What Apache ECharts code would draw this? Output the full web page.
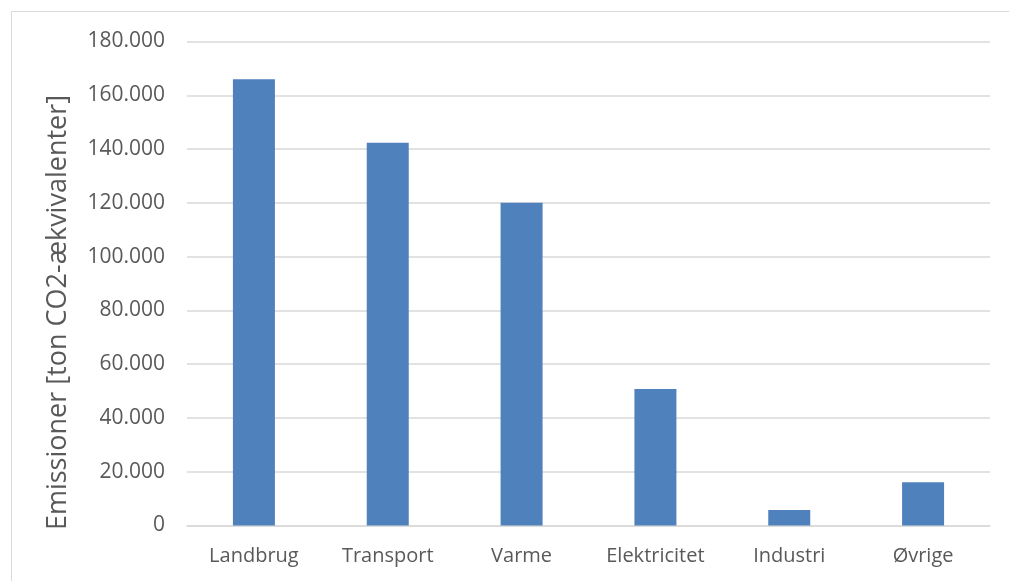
<!DOCTYPE html>
<html>
<head>
<meta charset="utf-8">
<script src="https://cdn.jsdelivr.net/npm/echarts@6/dist/echarts.min.js"></script>
<style>
  html, body { margin: 0; padding: 0; background: #fff; }
  #emissionChart { width: 1009px; height: 581px; }
</style>
</head>
<body>
<div id="emissionChart"></div>
<script>
// sektorer og udledninger (ton CO2-ækv.)
var categories = ['Landbrug', 'Transport', 'Varme', 'Elektricitet', 'Industri', 'Øvrige'];
var emissions = [166000, 142300, 120000, 50800, 5800, 16100];
var yAxisName = 'Emissioner [ton CO2-ækvivalenter]';

var myChart = echarts.init(document.getElementById('emissionChart'));

function fmtThousands(v) {
  return String(v).replace(/\B(?=(\d{3})+(?!\d))/g, '.');
}

var options = {
  animation: false,
  textStyle: { fontFamily: 'Open Sans' },
  graphic: [
    {
      type: 'rect',
      shape: { x: 11.5, y: 11.5, width: 1100, height: 700 },
      style: { fill: 'none', stroke: '#d9d9d9', lineWidth: 1 }
    }
  ],
  grid: { left: 187, right: 19, top: 41.5, bottom: 55.5 },
  xAxis: {
    type: 'category',
    data: categories,
    axisLine: { lineStyle: { color: '#d9d9d9', width: 1.5 } },
    axisTick: { show: false },
    axisLabel: { color: '#595959', fontSize: 20, margin: 21 }
  },
  yAxis: {
    type: 'value',
    min: 0,
    max: 180000,
    interval: 20000,
    name: yAxisName,
    nameLocation: 'middle',
    nameGap: 115,
    // titlen sidder lidt lavere end plottets midte
    nameTextStyle: { color: '#595959', fontSize: 27, padding: [0, 58, 0, 0] },
    axisLine: { show: false },
    axisTick: { show: false },
    axisLabel: { color: '#595959', fontSize: 21, margin: 22, formatter: fmtThousands },
    splitLine: { lineStyle: { color: '#d9d9d9', width: 1.5 } }
  },
  series: [
    {
      type: 'bar',
      data: emissions,
      barWidth: 42,
      itemStyle: { color: '#4f81bd' }
    }
  ]
};
myChart.setOption(options);
</script>
</body>
</html>
